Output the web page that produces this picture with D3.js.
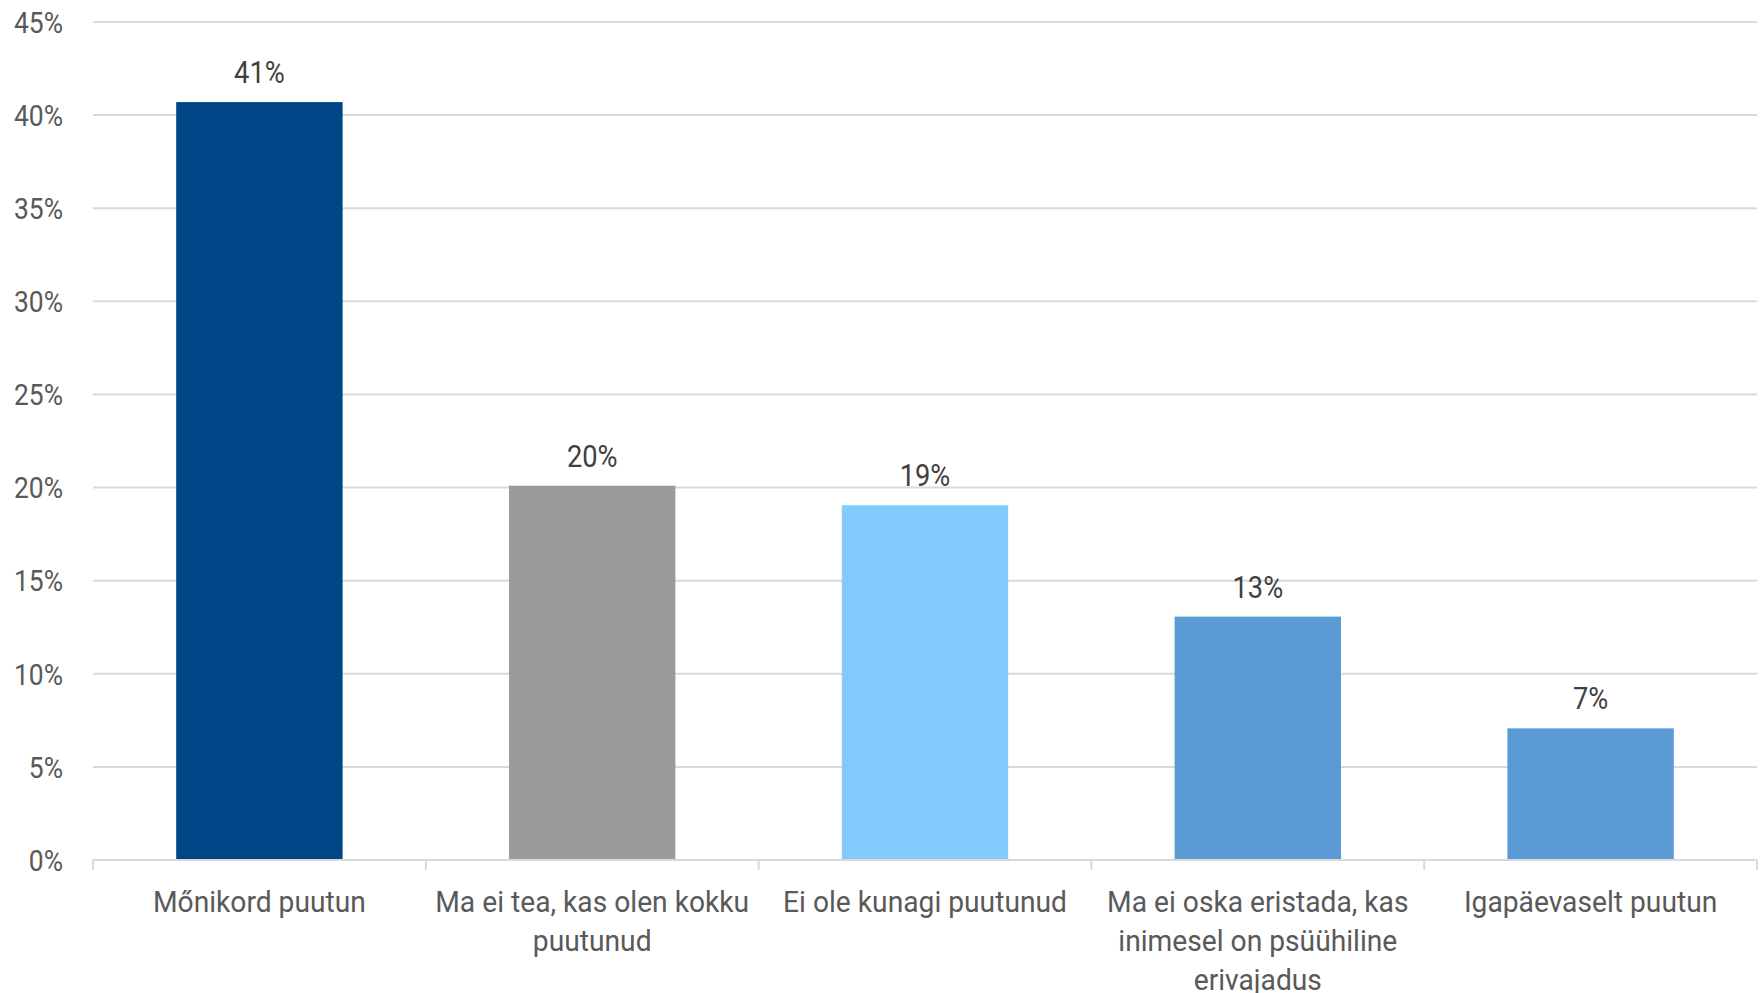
<!DOCTYPE html>
<html><head><meta charset="utf-8">
<script src="https://cdn.jsdelivr.net/npm/d3@7"></script>
<style>
html,body{margin:0;padding:0;background:#fff;}
svg{display:block;font-family:Roboto, "Noto Sans", sans-serif;}
</style></head>
<body>
<svg id="chart" width="1762" height="993"></svg>
<script>
const categories = ["Mőnikord puutun", "Ma ei tea, kas olen kokku\npuutunud", "Ei ole kunagi puutunud", "Ma ei oska eristada, kas\ninimesel on psüühiline\nerivajadus", "Igapäevaselt puutun"];
const values = [40.7, 20.1, 19.05, 13.07, 7.07];
const valueLabels = ["41%", "20%", "19%", "13%", "7%"];
const barColors = ["#004586", "#9B9B9B", "#83CAFF", "#5B9BD5", "#5B9BD5"];
const yTicks = [0, 5, 10, 15, 20, 25, 30, 35, 40, 45];

(function () {
const SX_TICK = 0.88, SX_VAL = 0.88, SX_CAT = 0.94; // horizontal condensing to mimic a condensed face
const svg = d3.select("#chart");
const pLeft = 93, pRight = 1757, pTop = 22, pBottom = 860;

const x = d3.scaleBand().domain(d3.range(categories.length)).range([pLeft, pRight]).paddingInner(0.5).paddingOuter(0.25);
const y = d3.scaleLinear().domain([0, 45]).range([pBottom, pTop]);

// gridlines
svg.append("g").selectAll("line").data(yTicks.filter(d => d > 0)).join("line")
  .attr("x1", pLeft).attr("x2", pRight)
  .attr("y1", d => y(d)).attr("y2", d => y(d))
  .attr("stroke", "#d9d9d9").attr("stroke-width", 2);

// y tick labels
svg.append("g").selectAll("text").data(yTicks).join("text")
  .attr("transform", d => `translate(63,${y(d)}) scale(${SX_TICK},1)`)
  .attr("text-anchor", "end").attr("dy", "0.36em")
  .attr("font-size", 30).attr("fill", "#595959")
  .text(d => d + "%");

// bars
svg.append("g").selectAll("rect").data(values).join("rect")
  .attr("x", (d, i) => x(i)).attr("width", x.bandwidth())
  .attr("y", d => y(d)).attr("height", d => y(0) - y(d))
  .attr("fill", (d, i) => barColors[i]);

// x axis line and ticks
svg.append("line").attr("x1", pLeft).attr("x2", pRight).attr("y1", pBottom).attr("y2", pBottom)
  .attr("stroke", "#d9d9d9").attr("stroke-width", 2);
const bounds = d3.range(categories.length + 1).map(i => pLeft + i * (pRight - pLeft) / categories.length);
svg.append("g").selectAll("line").data(bounds).join("line")
  .attr("x1", d => d).attr("x2", d => d).attr("y1", pBottom).attr("y2", pBottom + 10)
  .attr("stroke", "#d9d9d9").attr("stroke-width", 2);

// value labels
svg.append("g").selectAll("text").data(values).join("text")
  .attr("transform", (d, i) => `translate(${x(i) + x.bandwidth() / 2},${y(d) - 19}) scale(${SX_VAL},1)`)
  .attr("text-anchor", "middle").attr("font-size", 31).attr("fill", "#404040")
  .text((d, i) => valueLabels[i]);

// category labels
const cl = svg.append("g").selectAll("text").data(categories).join("text")
  .attr("transform", (d, i) => `translate(${x(i) + x.bandwidth() / 2},912) scale(${SX_CAT},1)`)
  .attr("text-anchor", "middle").attr("font-size", 30).attr("fill", "#595959");
cl.each(function(d) {
  const t = d3.select(this);
  d.split("\n").forEach((line, k) => {
    t.append("tspan").attr("x", 0).attr("y", k * 39).text(line);
  });
});
})();
</script>
</body></html>
